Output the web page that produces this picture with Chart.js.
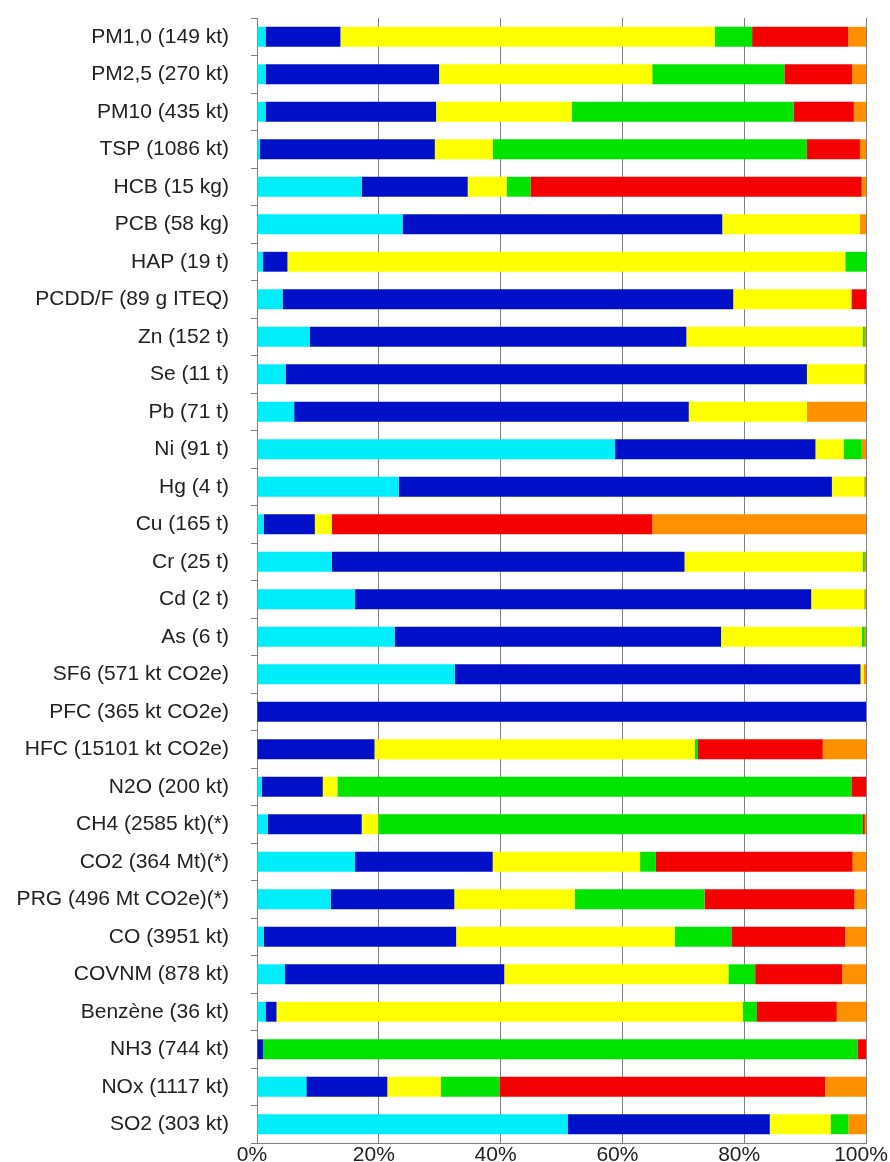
<!DOCTYPE html>
<html>
<head>
<meta charset="utf-8">
<script src="https://cdn.jsdelivr.net/npm/chart.js@4"></script>
<style>
  html, body { margin: 0; padding: 0; background: #fff; }
  #wrap { width: 890px; height: 1162px; }
</style>
</head>
<body>
<div id="wrap"><canvas id="chart"></canvas></div>
<script>
const categories = [
  'PM1,0 (149 kt)', 'PM2,5 (270 kt)', 'PM10 (435 kt)', 'TSP (1086 kt)', 'HCB (15 kg)',
  'PCB (58 kg)', 'HAP (19 t)', 'PCDD/F (89 g ITEQ)', 'Zn (152 t)', 'Se (11 t)',
  'Pb (71 t)', 'Ni (91 t)', 'Hg (4 t)', 'Cu (165 t)', 'Cr (25 t)',
  'Cd (2 t)', 'As (6 t)', 'SF6 (571 kt CO2e)', 'PFC (365 kt CO2e)', 'HFC (15101 kt CO2e)',
  'N2O (200 kt)', 'CH4 (2585 kt)(*)', 'CO2 (364 Mt)(*)', 'PRG (496 Mt CO2e)(*)', 'CO (3951 kt)',
  'COVNM (878 kt)', 'Benzène (36 kt)', 'NH3 (744 kt)', 'NOx (1117 kt)', 'SO2 (303 kt)'
];

// share of each sector, in %, same order as categories
const transformation = [1.4, 1.4, 1.4, 0.5, 17.2, 23.9, 1.0, 4.2, 8.7, 4.7, 6.1, 58.8, 23.3, 1.1, 12.3, 16.1, 22.6, 32.5, 0, 0, 0.8, 1.8, 16.1, 12.1, 1.1, 4.6, 1.4, 0, 8.1, 51.0];
const industrie      = [12.3, 28.5, 28.0, 28.7, 17.4, 52.5, 4.0, 74.0, 61.8, 85.6, 64.8, 32.9, 71.1, 8.4, 57.9, 74.9, 53.6, 66.6, 100, 19.3, 10.0, 15.4, 22.6, 20.3, 31.6, 36.0, 1.8, 1.0, 13.3, 33.2];
const residentiel    = [61.5, 35.0, 22.3, 9.5, 6.4, 22.6, 91.6, 19.4, 29.0, 9.4, 19.4, 4.6, 5.3, 2.8, 29.3, 8.7, 23.1, 0.5, 0, 52.6, 2.4, 2.7, 24.2, 19.8, 35.9, 36.8, 76.6, 0, 8.8, 10.0];
const agriculture    = [6.1, 21.7, 36.4, 51.6, 3.9, 0, 3.4, 0, 0.3, 0.1, 0, 3.0, 0.1, 0, 0.3, 0.1, 0.5, 0, 0, 0.5, 84.4, 79.6, 2.6, 21.3, 9.3, 4.4, 2.3, 97.6, 9.6, 2.9];
const routier        = [15.8, 11.1, 9.9, 8.7, 54.4, 0, 0, 2.4, 0, 0, 0, 0, 0, 52.6, 0, 0, 0, 0, 0, 20.5, 2.4, 0.3, 32.3, 24.6, 18.7, 14.3, 13.1, 1.4, 53.5, 0];
const autresTransp   = [2.9, 2.3, 2.0, 1.0, 0.7, 1.0, 0, 0, 0.2, 0.2, 9.7, 0.7, 0.2, 35.1, 0.2, 0.2, 0.2, 0.4, 0, 7.1, 0, 0.2, 2.2, 1.9, 3.4, 3.9, 4.8, 0, 6.7, 2.9];

const xTicks = [0, 20, 40, 60, 80, 100];

const font = { family: '"Liberation Sans", Arial, sans-serif', size: 21 };

const series = [
  { label: 'Transformation énergie', data: transformation, color: '#00eefa' },
  { label: 'Industrie manufacturière', data: industrie, color: '#0010c8' },
  { label: 'Résidentiel / tertiaire', data: residentiel, color: '#ffff00' },
  { label: 'Agriculture / sylviculture', data: agriculture, color: '#00e400' },
  { label: 'Transport routier', data: routier, color: '#f50000' },
  { label: 'Autres transports', data: autresTransp, color: '#ff9100' }
];

new Chart(document.getElementById('chart'), {
  type: 'bar',
  data: {
    labels: categories,
    datasets: series.map(s => ({
      label: s.label,
      data: s.data,
      backgroundColor: s.color,
      borderWidth: 0,
      categoryPercentage: 1,
      barPercentage: 0.53
    }))
  },
  options: {
    indexAxis: 'y',
    responsive: true,
    maintainAspectRatio: false,
    animation: false,
    layout: { padding: { top: 18, right: 24, left: 0, bottom: 0 } },
    plugins: { legend: { display: false }, tooltip: { enabled: false } },
    scales: {
      x: {
        stacked: true,
        min: 0,
        max: 100,
        afterBuildTicks: axis => { axis.ticks = xTicks.map(v => ({ value: v })); },
        afterFit: axis => {
          axis.height = 19;
          axis.paddingLeft = 0;
          axis.paddingRight = 0;
        },
        ticks: {
          callback: v => v + '%',
          color: '#222',
          font: font,
          padding: 0,
          labelOffset: -5,
          maxRotation: 0
        },
        grid: { color: '#808080', lineWidth: 1, drawTicks: false },
        border: { display: true, color: '#808080' }
      },
      y: {
        stacked: true,
        afterFit: axis => {
          axis.width = 257;
          axis.paddingTop = 0;
          axis.paddingBottom = 0;
        },
        ticks: { color: '#222', font: font, padding: 22, autoSkip: false },
        grid: {
          offset: true,
          drawOnChartArea: false,
          drawTicks: true,
          tickLength: 6,
          color: '#808080'
        },
        border: { display: true, color: '#808080' }
      }
    }
  }
});
</script>
</body>
</html>
